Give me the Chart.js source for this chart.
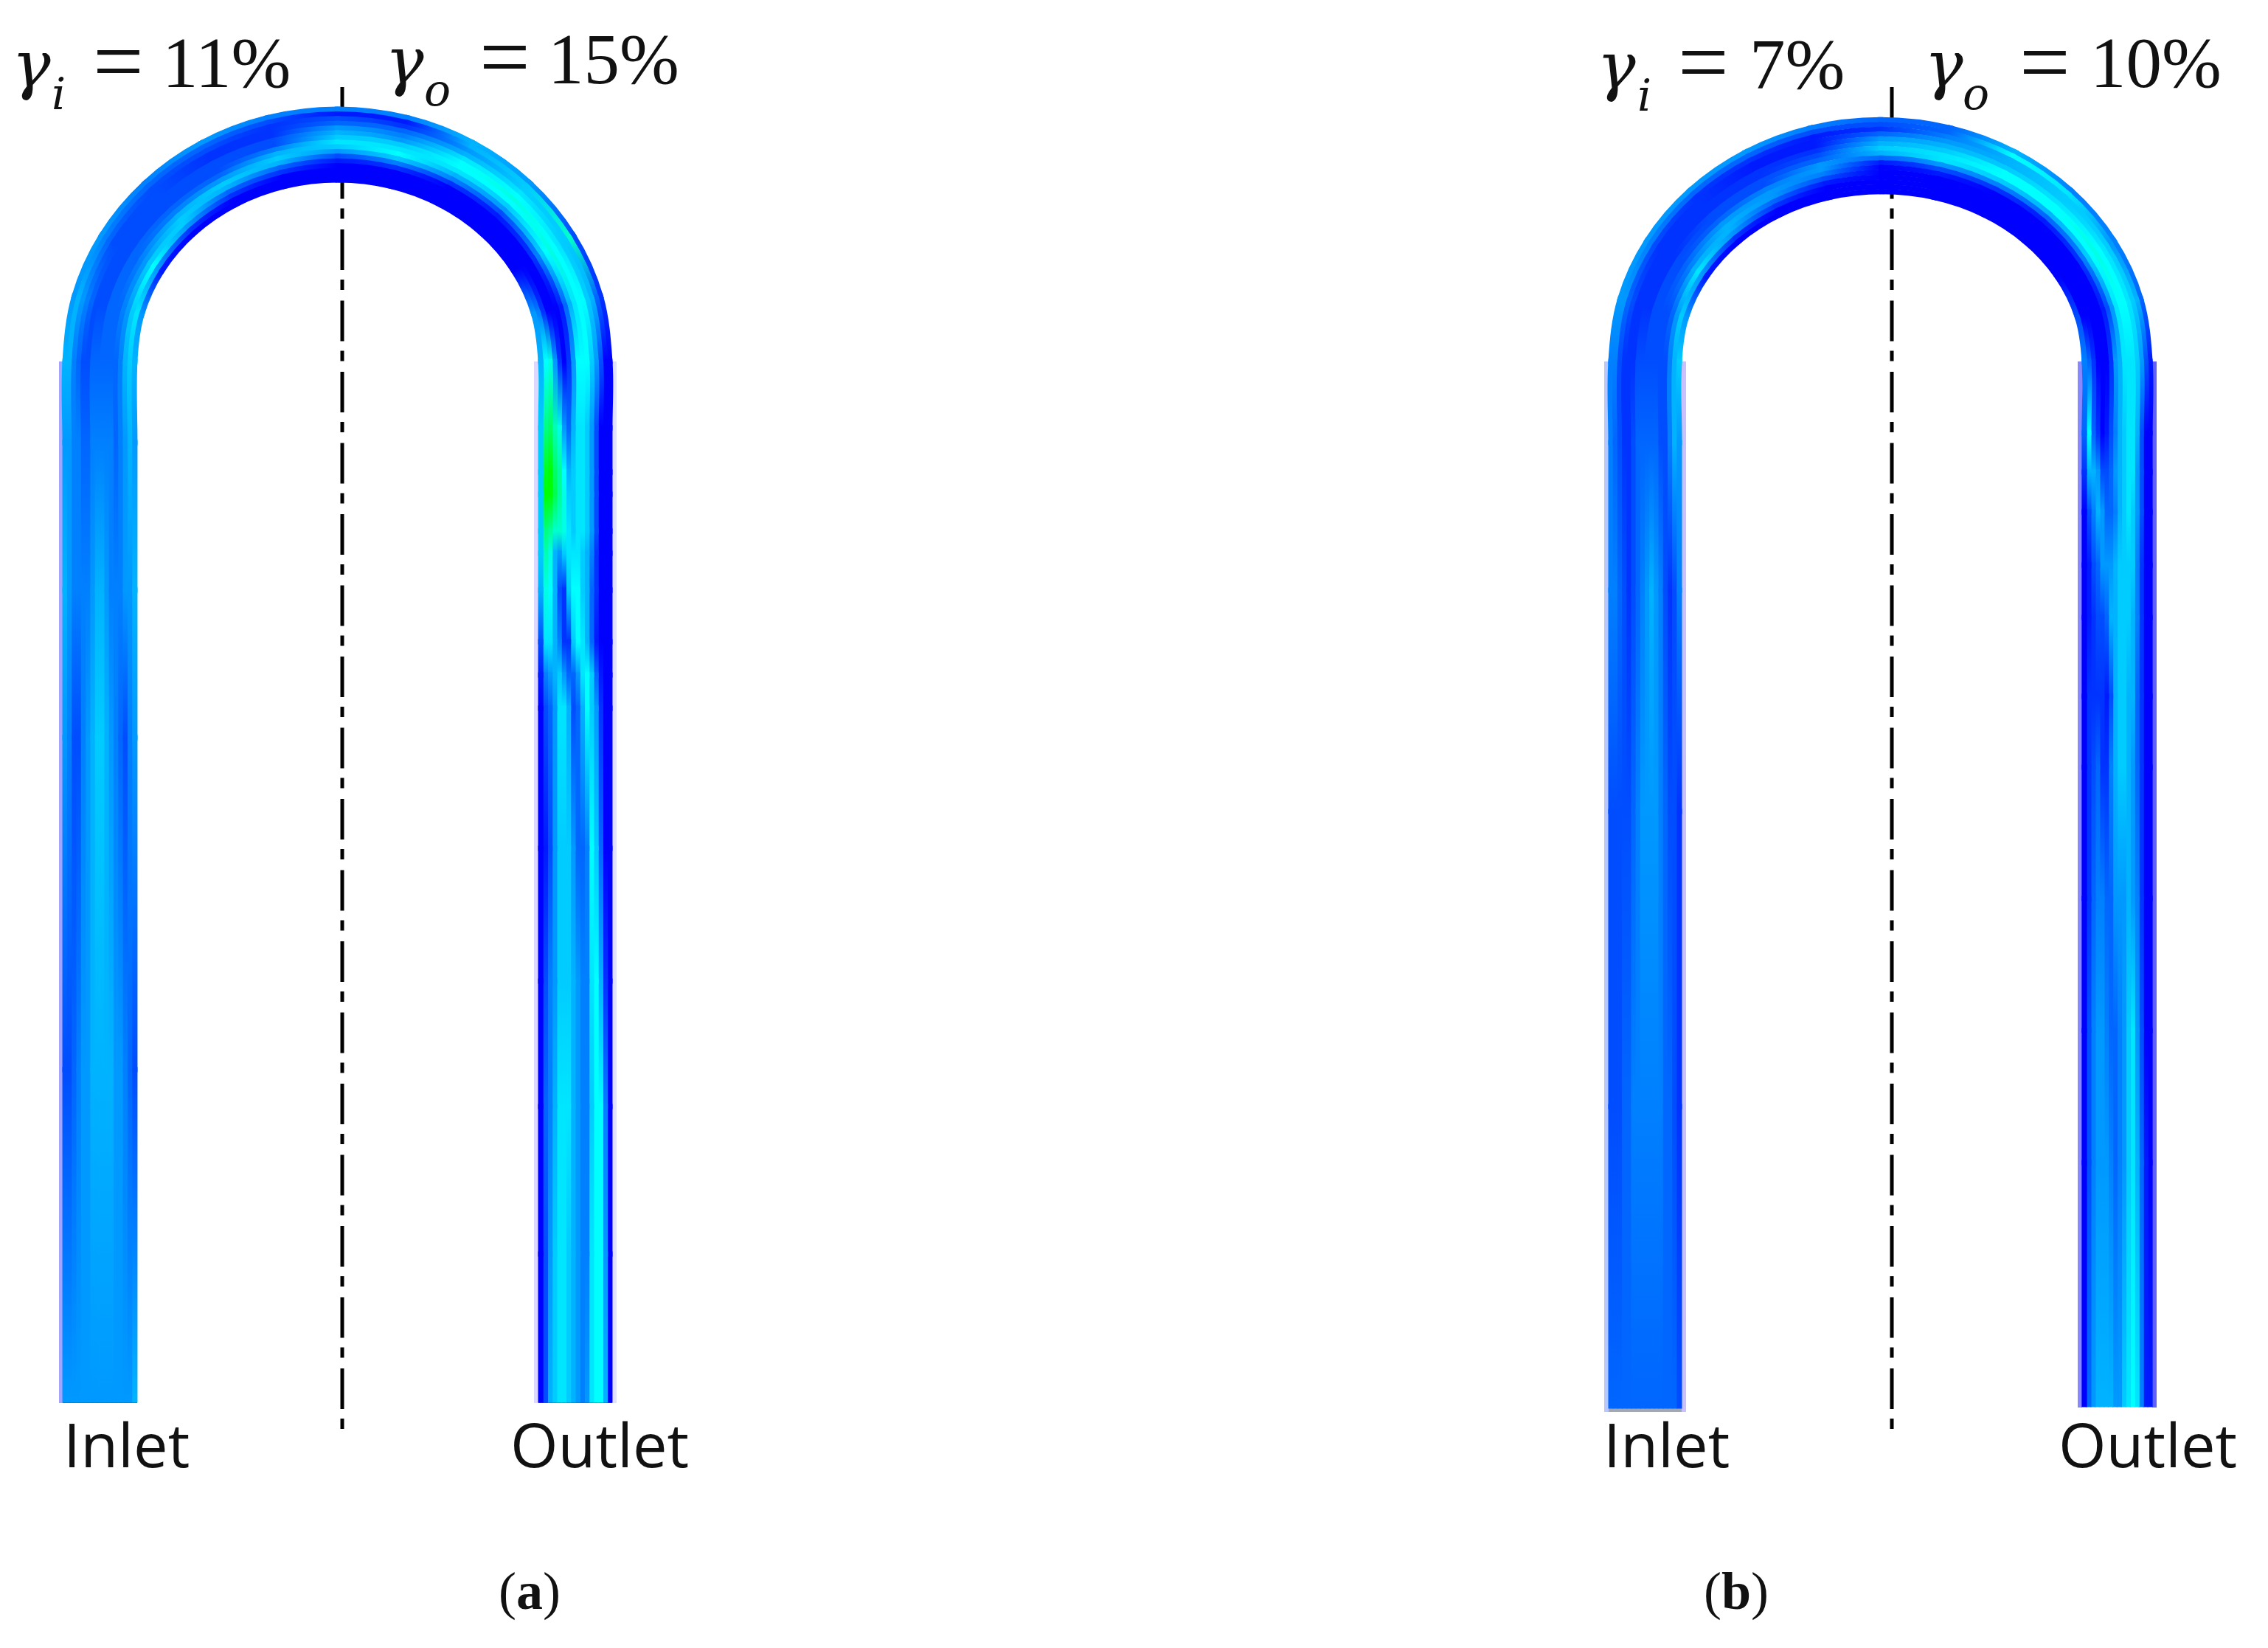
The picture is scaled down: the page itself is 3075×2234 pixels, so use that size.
<!DOCTYPE html>
<html>
<head>
<meta charset="utf-8">
<title>U-bend contours</title>
<script src="https://cdn.jsdelivr.net/npm/chart.js@4/dist/chart.umd.min.js"></script>
<style>
  html, body { margin: 0; padding: 0; background: #fff; }
  canvas { display: block; }
</style>
</head>
<body>
<canvas id="chart" width="3075" height="2234"></canvas>
<script>
// contour level across the pipe, inner wall -> outer wall, 0 = blue, 10 = cyan, 20 = green
const arcDegrees = [15, 30, 45, 60, 75, 90, 105, 120, 135, 150, 165];

const inletStationsA = [1898, 1450, 1000, 800, 600, 490];
const inletLevelsA = [
  [7, 6, 6, 6, 6, 6, 6, 6, 6, 6, 6, 6, 6, 6, 6, 6],
  [3, 4, 5, 6, 6, 7, 7, 7, 7, 7, 6, 6, 5, 4, 3, 3],
  [6, 5, 3, 4, 5, 6, 7, 8, 8, 7, 6, 5, 3, 3, 5, 6],
  [7, 6, 6, 5, 5, 5, 6, 7, 7, 6, 5, 5, 5, 5, 6, 7],
  [6, 7, 6, 5, 4, 5, 5, 5, 5, 5, 4, 4, 5, 5, 6, 6],
  [7, 8, 7, 5, 4, 4, 4, 4, 4, 4, 3, 3, 4, 5, 7, 7]
];
const arcLevelsA = [
  [6, 9, 8, 6, 5, 4, 4, 4, 3, 3, 3, 4, 5, 6, 7, 6],
  [1, 6, 10, 8, 6, 5, 4, 4, 3, 3, 3, 3, 3, 4, 5, 6],
  [0, 2, 6, 8, 8, 7, 5, 4, 3, 3, 3, 3, 3, 3, 4, 5],
  [0, 0, 2, 4, 7, 8, 6, 4, 3, 3, 3, 2, 2, 3, 4, 6],
  [0, 0, 0, 2, 4, 7, 8, 7, 5, 3, 3, 2, 2, 2, 3, 5],
  [0, 0, 0, 0, 1, 3, 6, 8, 9, 8, 7, 6, 4, 3, 1, 5],
  [0, 0, 0, 0, 2, 5, 8, 10, 9, 8, 6, 5, 4, 2, 1, 5],
  [0, 0, 0, 0, 0, 2, 5, 7, 9, 10, 10, 9, 7, 6, 7, 7],
  [0, 0, 0, 0, 0, 1, 3, 6, 8, 10, 11, 10, 9, 8, 8, 6],
  [0, 0, 0, 0, 0, 2, 5, 8, 10, 11, 10, 9, 8, 8, 12, 3],
  [6, 5, 2, 0, 0, 0, 1, 4, 7, 9, 10, 10, 8, 7, 4, 2]
];
const outletStationsA = [490, 580, 640, 670, 720, 750, 800, 870, 915, 960, 1150, 1330, 1500, 1700, 1898];
const outletLevelsA = [
  [7, 10, 11, 6, 2, 0, 2, 6, 10, 10, 10, 8, 6, 3, 0, 0],
  [8, 15, 16, 13, 11, 6, 4, 7, 9, 9, 8, 6, 3, 0, 0, 0],
  [8, 19, 20, 16, 14, 10, 7, 8, 9, 9, 8, 6, 3, 0, 0, 0],
  [8, 20, 20, 17, 14, 11, 8, 8, 9, 9, 8, 6, 3, 0, 0, 0],
  [8, 15, 14, 12, 12, 11, 9, 8, 9, 9, 8, 6, 3, 0, 0, 0],
  [8, 13, 11, 7, 6, 8, 9, 9, 9, 8, 7, 5, 2, 0, 0, 0],
  [7, 11, 10, 7, 3, 2, 8, 10, 10, 8, 7, 4, 2, 0, 0, 0],
  [3, 9, 9, 7, 5, 2, 2, 8, 10, 9, 7, 4, 1, 0, 0, 0],
  [1, 5, 6, 7, 8, 6, 4, 4, 6, 9, 10, 8, 4, 1, 0, 0],
  [0, 3, 4, 6, 9, 9, 7, 3, 4, 7, 10, 8, 6, 2, 0, 0],
  [0, 1, 3, 6, 8, 8, 8, 6, 4, 4, 5, 10, 8, 4, 0, 0],
  [0, 3, 5, 6, 8, 8, 8, 7, 6, 5, 5, 9, 10, 7, 2, 0],
  [0, 4, 5, 7, 9, 9, 9, 7, 6, 5, 5, 8, 10, 10, 5, 0],
  [0, 3, 6, 8, 9, 9, 8, 7, 6, 5, 5, 9, 10, 10, 6, 0],
  [0, 3, 7, 8, 9, 9, 8, 7, 6, 5, 6, 9, 10, 10, 7, 0]
];

const inletStationsB = [1906, 1500, 1100, 800, 600, 490];
const inletLevelsB = [
  [3, 4, 4, 4, 4, 4, 4, 4, 4, 4, 4, 4, 4, 4, 4, 4],
  [2, 3, 4, 4, 5, 5, 5, 5, 5, 5, 5, 4, 4, 3, 3, 3],
  [2, 3, 3, 4, 5, 6, 6, 6, 6, 5, 4, 3, 3, 3, 3, 3],
  [5, 3, 2, 3, 5, 6, 7, 6, 5, 4, 3, 2, 3, 4, 5, 5],
  [6, 7, 5, 3, 3, 4, 4, 4, 4, 4, 3, 2, 2, 3, 4, 5],
  [8, 7, 5, 3, 3, 3, 3, 3, 3, 3, 2, 2, 2, 3, 5, 5]
];
const arcLevelsB = [
  [6, 8, 6, 4, 3, 3, 3, 3, 2, 2, 2, 2, 3, 4, 6, 6],
  [1, 6, 9, 7, 5, 4, 3, 3, 2, 2, 2, 2, 2, 3, 5, 6],
  [0, 2, 6, 7, 7, 6, 4, 3, 3, 2, 2, 2, 2, 2, 4, 6],
  [0, 0, 2, 4, 6, 6, 5, 3, 3, 2, 2, 1, 1, 2, 4, 6],
  [0, 0, 0, 1, 3, 5, 6, 6, 4, 3, 2, 1, 1, 1, 3, 5],
  [0, 0, 0, 0, 0, 0, 1, 4, 7, 8, 7, 6, 4, 2, 3, 4],
  [0, 0, 0, 0, 0, 1, 3, 6, 9, 9, 8, 7, 6, 5, 4, 4],
  [0, 0, 0, 0, 0, 0, 2, 5, 8, 10, 10, 8, 7, 7, 10, 7],
  [0, 0, 0, 0, 0, 0, 1, 4, 7, 10, 10, 9, 8, 8, 9, 5],
  [0, 0, 0, 0, 0, 0, 2, 5, 8, 10, 11, 10, 9, 8, 6, 5],
  [3, 0, 0, 0, 0, 0, 1, 3, 6, 9, 10, 10, 9, 8, 7, 4]
];
const outletStationsB = [490, 587, 640, 694, 766, 837, 944, 1040, 1218, 1397, 1576, 1904];
const outletLevelsB = [
  [5, 4, 2, 0, 0, 0, 2, 6, 7, 9, 9, 9, 8, 6, 3, 1],
  [4, 10, 4, 2, 0, 1, 3, 5, 7, 8, 9, 9, 7, 3, 0, 0],
  [2, 7, 7, 6, 3, 3, 4, 6, 7, 8, 9, 9, 6, 3, 0, 0],
  [0, 3, 5, 7, 6, 4, 4, 5, 7, 8, 9, 8, 6, 3, 0, 0],
  [0, 1, 3, 4, 6, 6, 6, 7, 8, 8, 8, 8, 5, 2, 0, 0],
  [0, 1, 2, 3, 3, 4, 7, 7, 8, 8, 8, 7, 5, 2, 0, 0],
  [0, 2, 2, 2, 2, 1, 3, 7, 8, 8, 7, 7, 4, 2, 0, 0],
  [0, 2, 3, 4, 2, 2, 5, 7, 8, 8, 7, 6, 4, 2, 0, 0],
  [0, 2, 4, 5, 5, 4, 4, 6, 6, 6, 7, 6, 5, 2, 0, 0],
  [0, 3, 5, 6, 6, 5, 4, 4, 5, 6, 8, 9, 6, 3, 0, 0],
  [0, 3, 5, 6, 6, 6, 5, 4, 5, 6, 8, 9, 7, 4, 1, 0],
  [0, 4, 6, 7, 7, 7, 7, 6, 6, 8, 9, 10, 9, 5, 1, 1]
];

const centreLinesX = [464, 2565];
const inletLabel = "Inlet";
const outletLabel = "Outlet";
const inletFractions = ["γ", "i", "=", "11%", "γ", "o", "=", "15%"];
const outletFractions = ["γ", "i", "=", "7%", "γ", "o", "=", "10%"];
const panelLetters = ["a", "b"];

// pipe outline of each panel
const pipeA = { leftIn: 186, leftOut: 85, rightIn: 730, rightOut: 830, topIn: 247, topOut: 145, base: 490 };
const pipeB = { leftIn: 2280, leftOut: 2181, rightIn: 2823, rightOut: 2918, topIn: 263, topOut: 159, base: 490 };

const canvas = document.getElementById("chart");
const ctx2d = canvas.getContext("2d");

function levelColor(n) {
  const v = n / 20;
  const g = Math.round(Math.min(v * 2, 1) * 255);
  const b = v <= 0.5 ? 255 : Math.round((1 - v) * 2 * 255);
  return "rgb(0," + g + "," + b + ")";
}

function bandDataset(pipe, band, inletY, inletRows, arcRows, outletY, outletRows) {
  const t = (band + 0.5) / 16;
  const xl = pipe.leftIn + (pipe.leftOut - pipe.leftIn) * t;
  const xr = pipe.rightIn + (pipe.rightOut - pipe.rightIn) * t;
  const top = pipe.topIn + (pipe.topOut - pipe.topIn) * t;
  const cx = (xl + xr) / 2, rx = (xr - xl) / 2, ry = pipe.base - top;

  const points = [], levels = [];
  inletY.forEach((y, i) => { points.push({ x: xl, y: y }); levels.push(inletRows[i][band]); });
  arcDegrees.forEach((deg, i) => {
    const a = deg * Math.PI / 180;
    points.push({ x: cx - rx * Math.cos(a), y: pipe.base - ry * Math.sin(a) });
    levels.push(arcRows[i][band]);
  });
  outletY.forEach((y, i) => { points.push({ x: xr, y: y }); levels.push(outletRows[i][band]); });

  return {
    data: points,
    borderWidth: 7.2,
    borderColor: levelColor(levels[0]),
    borderCapStyle: "square",
    tension: 0.34,
    pointRadius: 0,
    segment: {
      borderColor: seg => {
        const g = ctx2d.createLinearGradient(seg.p0.x, seg.p0.y, seg.p1.x, seg.p1.y);
        g.addColorStop(0, levelColor(levels[seg.p0DataIndex]));
        g.addColorStop(1, levelColor(levels[seg.p1DataIndex]));
        return g;
      }
    }
  };
}

function straight(x0, y0, x1, y1, color, width, dash) {
  return {
    data: [{ x: x0, y: y0 }, { x: x1, y: y1 }],
    borderColor: color,
    borderWidth: width,
    borderDash: dash || [],
    pointRadius: 0,
    tension: 0
  };
}

const datasets = [];
for (let band = 0; band < 16; band++) {
  datasets.push(bandDataset(pipeA, band, inletStationsA, inletLevelsA, arcLevelsA, outletStationsA, outletLevelsA));
  datasets.push(bandDataset(pipeB, band, inletStationsB, inletLevelsB, arcLevelsB, outletStationsB, outletLevelsB));
}

// pale wall edges and the dark strip at the pipe ends
datasets.push(straight(82.5, 490, 82.5, 1902, "#a4a4ff", 5));
datasets.push(straight(727, 490, 727, 1902, "#dcd8ff", 6));
datasets.push(straight(833, 490, 833, 1902, "#e0e0ff", 6));
datasets.push(straight(2178, 490, 2178, 1914, "#b8c8ff", 6));
datasets.push(straight(2283, 490, 2283, 1914, "#c8c0ff", 6));
datasets.push(straight(2820, 490, 2820, 1908, "#8888ff", 6));
datasets.push(straight(2921, 490, 2921, 1908, "#6060ff", 6));
datasets.push(straight(85, 1899, 186, 1899, "#006494", 6));
datasets.push(straight(730, 1899, 830, 1899, "#0a6a90", 6));
datasets.push(straight(2175, 1911, 2286, 1911, "#a0a8b4", 6));

centreLinesX.forEach(x => {
  datasets.push(straight(x, 118, x, 1945, "#000", 5, [55, 13, 14, 14.5]));
});

const mathFont = "italic 88px 'DejaVu Serif'";
const subFont = "italic 60px 'DejaVu Serif'";
const numFont = "97px 'Liberation Serif'";
const eqFont = "122px 'Liberation Serif'";
const wordFont = "83px 'Open Sans'";
const capFont = "72px 'Liberation Serif'";
const capBold = "bold 72px 'Liberation Serif'";
const textRuns = [
  [inletFractions[0], 16, 118, mathFont], [inletFractions[1], 70, 148, subFont],
  [inletFractions[2], 126, 124, eqFont], [inletFractions[3], 220, 118, numFont],
  [inletFractions[4], 522, 113, mathFont], [inletFractions[5], 575, 143, subFont],
  [inletFractions[6], 650, 118, eqFont], [inletFractions[7], 743, 113, numFont],
  [outletFractions[0], 2165, 120, mathFont], [outletFractions[1], 2220, 150, subFont],
  [outletFractions[2], 2275, 125, eqFont], [outletFractions[3], 2372, 120, numFont],
  [outletFractions[4], 2609, 118, mathFont], [outletFractions[5], 2661, 148, subFont],
  [outletFractions[6], 2738, 125, eqFont], [outletFractions[7], 2834, 118, numFont],
  [inletLabel, 86, 1989, wordFont], [outletLabel, 692, 1989, wordFont],
  [inletLabel, 2174, 1989, wordFont], [outletLabel, 2791, 1989, wordFont],
  ["(", 676, 2181, capFont], [panelLetters[0], 700, 2181, capBold], [")", 736, 2181, capFont],
  ["(", 2310, 2181, capFont], [panelLetters[1], 2334, 2181, capBold], [")", 2374, 2181, capFont]
];

const textPlugin = {
  id: "figureText",
  afterDraw(chart) {
    const c = chart.ctx, xs = chart.scales.x, ys = chart.scales.y;
    c.save();
    c.fillStyle = "#111";
    c.textBaseline = "alphabetic";
    c.textAlign = "left";
    textRuns.forEach(r => {
      c.font = r[3];
      c.fillText(r[0], xs.getPixelForValue(r[1]), ys.getPixelForValue(r[2]));
    });
    c.restore();
  }
};

new Chart(ctx2d, {
  type: "line",
  data: { datasets: datasets },
  options: {
    responsive: false,
    animation: false,
    devicePixelRatio: 1,
    layout: { padding: 0 },
    plugins: { legend: { display: false }, tooltip: { enabled: false } },
    scales: {
      x: { type: "linear", min: 0, max: 3075, display: false },
      y: { type: "linear", min: 0, max: 2234, reverse: true, display: false }
    }
  },
  plugins: [textPlugin]
});
</script>
</body>
</html>
